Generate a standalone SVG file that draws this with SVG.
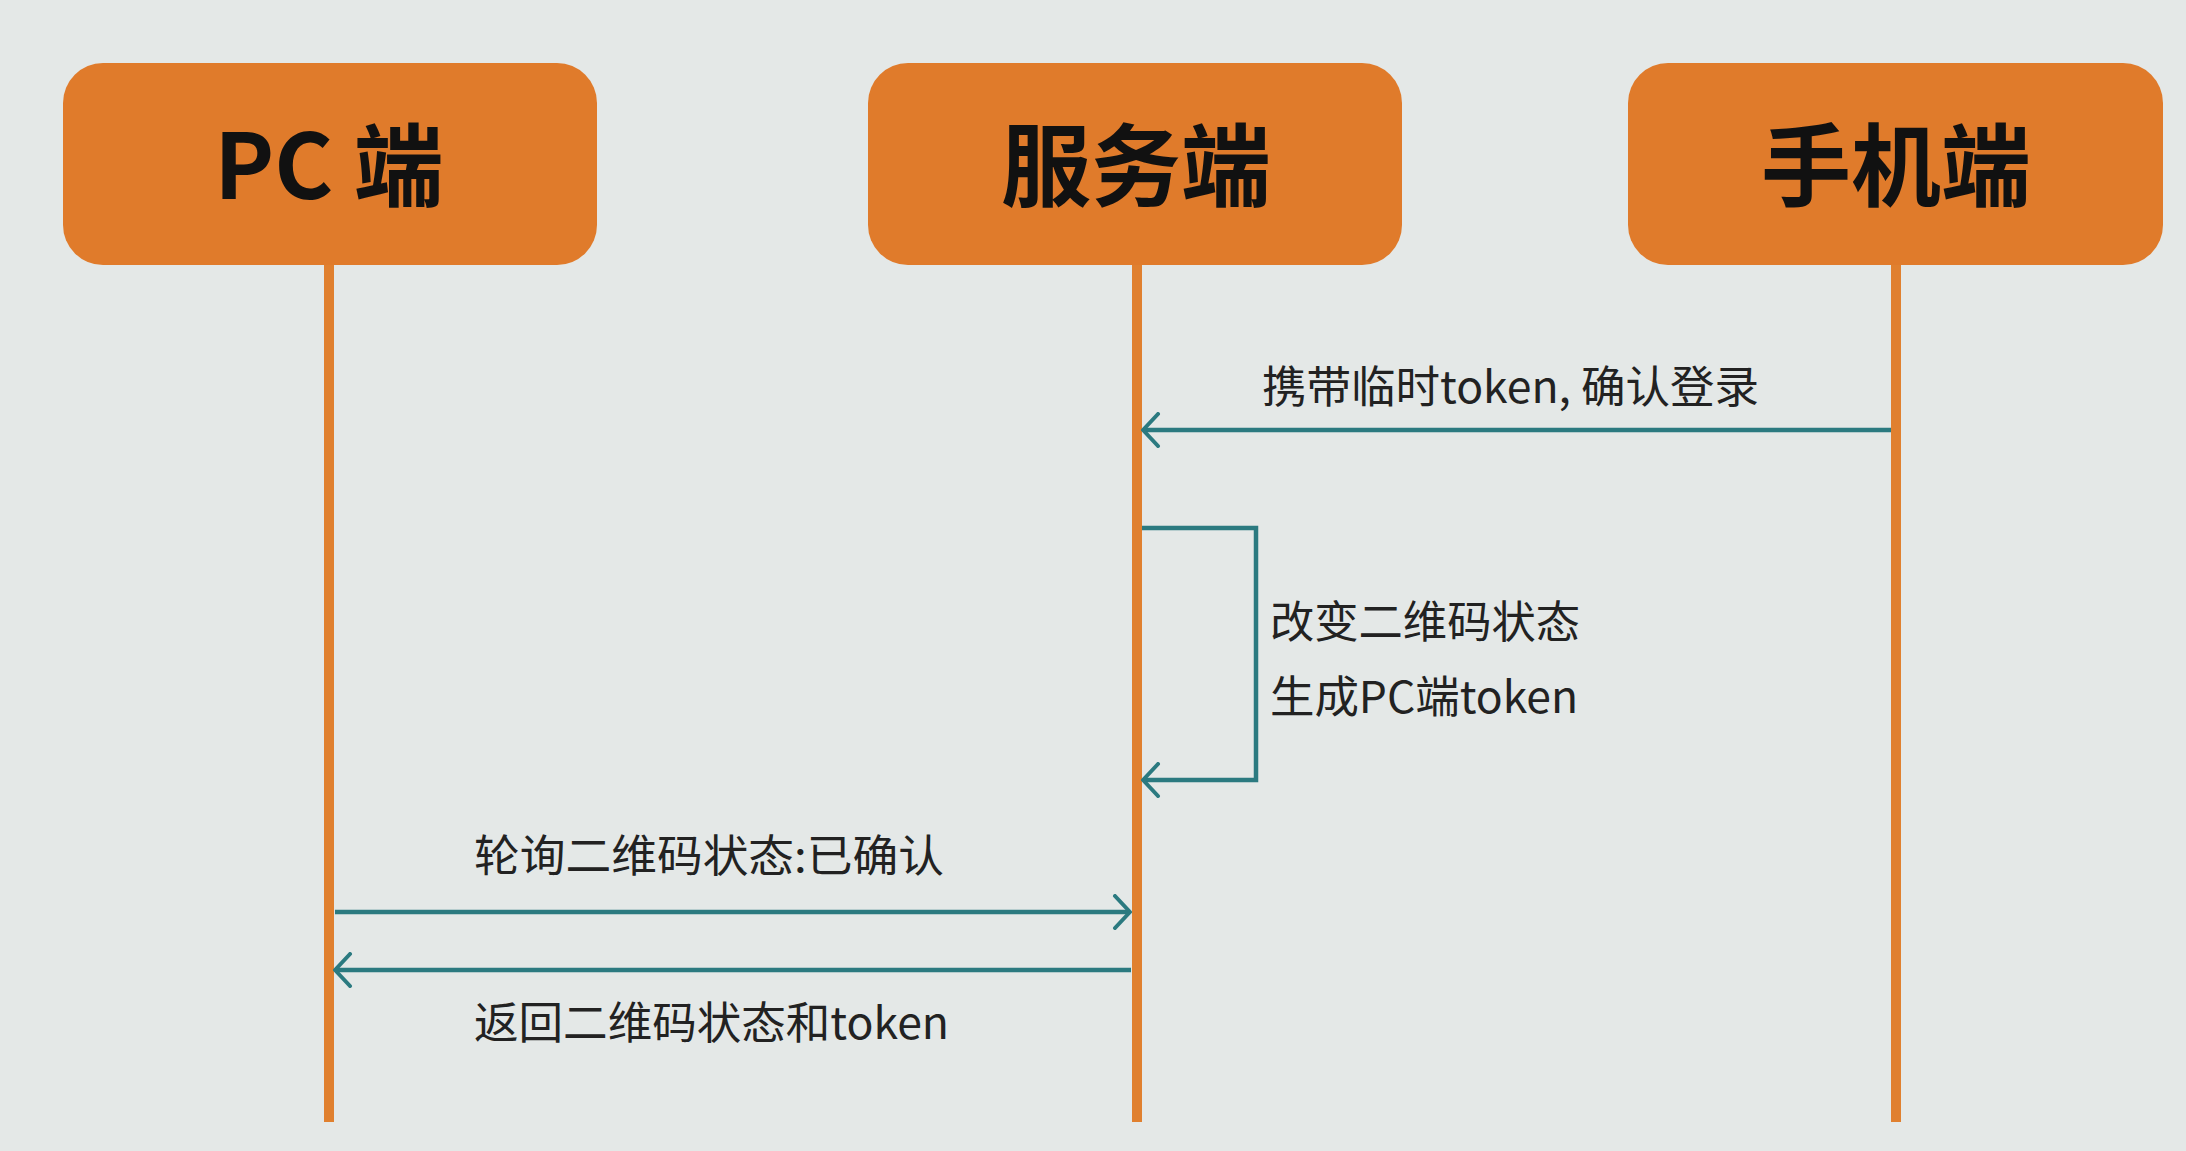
<svg xmlns="http://www.w3.org/2000/svg" width="2186" height="1151" viewBox="0 0 2186 1151">
  <style>
    .box { fill: #e07b2b; }
    .head { font-family: "Noto Sans CJK SC", "Noto Sans", sans-serif; font-weight: 700; font-size: 90px; fill: #111; text-anchor: middle; }
    .life { stroke: #e0802f; stroke-width: 10; fill: none; }
    .msg { stroke: #2b7a80; stroke-width: 4.5; fill: none; marker-end: url(#arrow); }
    .lbl { font-family: "Noto Sans CJK SC", "Noto Sans", sans-serif; font-size: 44px; fill: #222; }
  </style>
  <defs>
    <marker id="arrow" markerUnits="userSpaceOnUse" viewBox="0 0 20 36" refX="18" refY="18" markerWidth="20" markerHeight="36" orient="auto">
      <path d="M3,2 L18,18 L3,34" fill="none" stroke="#2b7a80" stroke-width="4" stroke-linecap="round" stroke-linejoin="round"/>
    </marker>
  </defs>
  <rect width="2186" height="1151" fill="#e4e8e7"/>

  <g id="lifelines">
    <line class="life" x1="329" y1="262" x2="329" y2="1122"/>
    <line class="life" x1="1137" y1="262" x2="1137" y2="1122"/>
    <line class="life" x1="1896" y1="262" x2="1896" y2="1122"/>
  </g>

  <g id="node-pc">
    <rect class="box" x="63" y="63" width="534" height="202" rx="40"/>
    <text class="head" x="329" y="199">PC 端</text>
  </g>
  <g id="node-server">
    <rect class="box" x="868" y="63" width="534" height="202" rx="40"/>
    <text class="head" x="1136" y="199">服务端</text>
  </g>
  <g id="node-phone">
    <rect class="box" x="1628" y="63" width="535" height="202" rx="40"/>
    <text class="head" x="1896" y="199">手机端</text>
  </g>

  <g id="connectors">
    <line class="msg" x1="1891" y1="430" x2="1143" y2="430"/>
    <path class="msg" d="M1142,528 L1256,528 L1256,780 L1143,780"/>
    <line class="msg" x1="335" y1="912" x2="1130" y2="912"/>
    <line class="msg" x1="1131" y1="970" x2="335" y2="970"/>
  </g>

  <g id="labels">
    <text class="lbl" x="1262" y="403" textLength="497" lengthAdjust="spacingAndGlyphs">携带临时token, 确认登录</text>
    <text class="lbl" x="1270" y="638" textLength="310" lengthAdjust="spacingAndGlyphs">改变二维码状态</text>
    <text class="lbl" x="1270" y="713" textLength="308" lengthAdjust="spacingAndGlyphs">生成PC端token</text>
    <text class="lbl" x="474" y="872" textLength="470" lengthAdjust="spacingAndGlyphs">轮询二维码状态:已确认</text>
    <text class="lbl" x="474" y="1039" textLength="475" lengthAdjust="spacingAndGlyphs">返回二维码状态和token</text>
  </g>
</svg>
